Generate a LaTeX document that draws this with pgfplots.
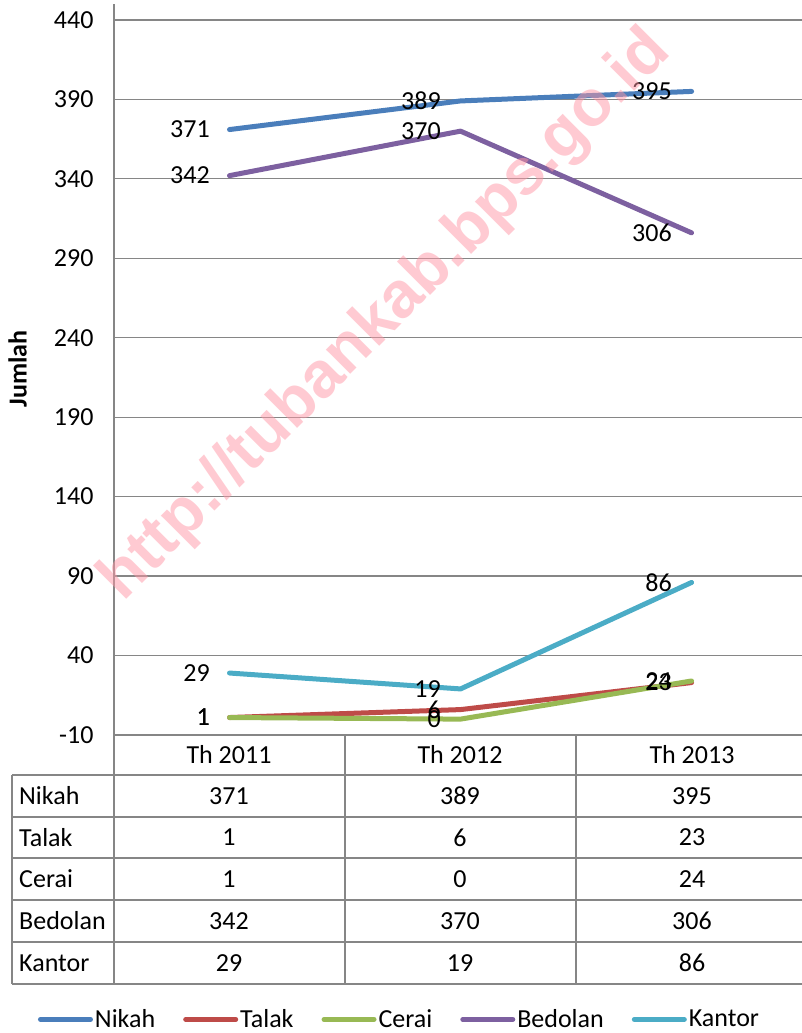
\documentclass[border=0pt]{standalone}
\usepackage{fontspec}
\setmainfont{Carlito}
\newfontfamily\wmfont{Liberation Sans}
\usepackage{pgfplots}
\pgfplotsset{compat=1.18}
\definecolor{cNikah}{RGB}{74,126,187}
\definecolor{cTalak}{RGB}{190,75,72}
\definecolor{cCerai}{RGB}{152,185,84}
\definecolor{cBedolan}{RGB}{125,96,160}
\definecolor{cKantor}{RGB}{75,172,198}
\definecolor{gridc}{RGB}{134,134,134}
\definecolor{wm}{RGB}{255,150,165}
\newcommand{\fs}{\fontsize{26}{31}\selectfont}
\begin{document}
\begin{tikzpicture}[x=1pt,y=1pt]
\useasboundingbox (0,0) rectangle (802,-1033);
\begin{axis}[
  at={(114pt,-735pt)}, anchor=south west,
  scale only axis, width=688pt, height=731pt,
  xmin=-0.5, xmax=2.478, ymin=-10, ymax=450,
  ytick={-10,40,...,440},
  xtick=\empty,
  axis lines*=left,
  axis line style={-, gridc, line width=1.5pt},
  ymajorgrids,
  grid style={gridc, line width=1.3pt},
  major tick length=0pt,
  clip=false,
  tick label style={font=\fs},
  yticklabel style={xshift=-17pt},
  /pgf/number format/assume math mode=true,
  every axis plot/.append style={line width=5pt, line cap=round, line join=round, mark=none},
  nodes near coords,
  every node near coord/.append style={anchor=east, xshift=-14pt, font=\fs, text=black},
  legend columns=5,
  legend style={at={(axis description cs:-0.1105,-0.389)}, anchor=west, draw=none, fill=none,
    inner sep=0pt, outer sep=0pt, font=\fs,
    /tikz/every even column/.append style={column sep=26pt},
    nodes={inner sep=2pt}},
  legend image code/.code={\draw[#1, line cap=round] (2.5pt,0pt) -- (52.5pt,0pt);},
]
\addplot[cNikah] coordinates {(0,371) (1,389) (2,395)};
\addlegendentry{Nikah}
\addplot[cTalak] coordinates {(0,1) (1,6) (2,23)};
\addlegendentry{Talak}
\addplot[cCerai] coordinates {(0,1) (1,0) (2,24)};
\addlegendentry{Cerai}
\addplot[cBedolan] coordinates {(0,342) (1,370) (2,306)};
\addlegendentry{Bedolan}
\addplot[cKantor] coordinates {(0,29) (1,19) (2,86)};
\addlegendentry{Kantor}
\end{axis}
% y label
\node[rotate=90, font=\fs\bfseries] at (17.5,-369) {Jumlah};
% data table
\begin{scope}[gridc, line width=1.5pt]
\draw (114,-735) -- (114,-984);
\draw (345,-735) -- (345,-984);
\draw (576,-735) -- (576,-984);
\draw (12,-775) -- (12,-984);
\foreach \yy in {775,817,858,900,942,984} {\draw (12,-\yy) -- (802,-\yy);}
\end{scope}
\begin{scope}[every node/.style={font=\fs, inner sep=0pt}]
\node at (229,-755) {Th 2011};
\node at (460,-755) {Th 2012};
\node at (692,-755) {Th 2013};
\node[anchor=west] at (19,-796) {Nikah};
\node[anchor=west] at (19,-837.5) {Talak};
\node[anchor=west] at (19,-879) {Cerai};
\node[anchor=west] at (19,-921) {Bedolan};
\node[anchor=west] at (19,-963) {Kantor};
\node at (229,-796) {371}; \node at (460,-796) {389}; \node at (692,-796) {395};
\node at (229,-837.5) {1}; \node at (460,-837.5) {6}; \node at (692,-837.5) {23};
\node at (229,-879) {1}; \node at (460,-879) {0}; \node at (692,-879) {24};
\node at (229,-921) {342}; \node at (460,-921) {370}; \node at (692,-921) {306};
\node at (229,-963) {29}; \node at (460,-963) {19}; \node at (692,-963) {86};
\end{scope}
% watermark
\node[rotate=45, text=wm, opacity=0.5, font=\wmfont\bfseries\fontsize{65}{70}\selectfont] at (386,-316) {http://tubankab.bps.go.id};
\end{tikzpicture}
\end{document}
